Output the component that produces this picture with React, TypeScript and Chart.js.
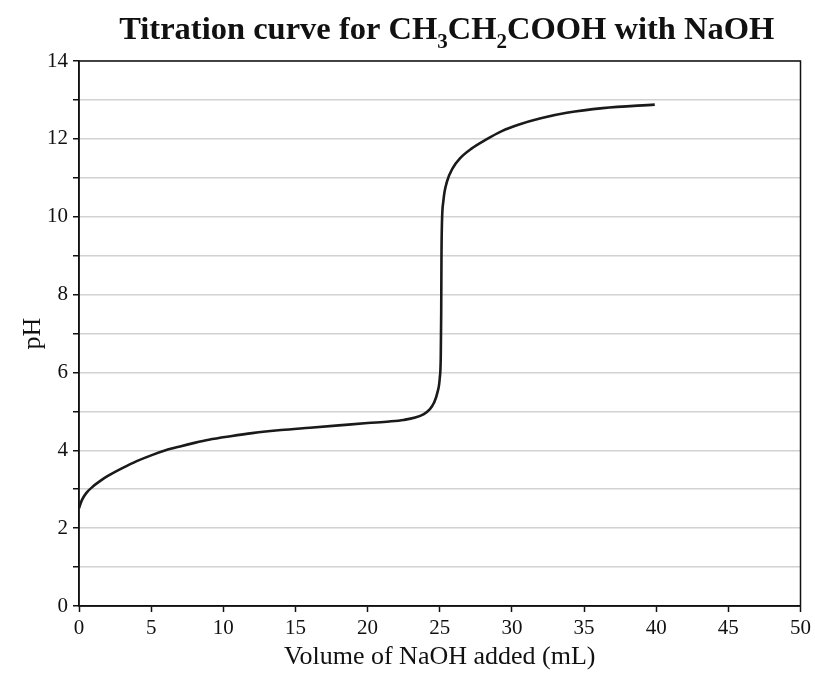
import React, { useEffect, useRef } from "react";
import { Chart, registerables } from "chart.js";

Chart.register(...registerables);

const volumes = [0, 0.2, 0.5, 1.0, 1.5, 2.0, 3.0, 4.0, 5.0, 6.0, 7.0, 8.0, 9.0, 10.5, 12, 14, 16, 18, 20, 21.5, 22.5, 23.3, 23.9, 24.3, 24.6, 24.85, 25.0, 25.07, 25.1, 25.12, 25.15, 25.25, 25.5, 25.9, 26.4, 27.2, 28.2, 29.3, 30.5, 32, 33.8, 36.3, 39.9];
const phValues = [2.51, 2.72, 2.9, 3.08, 3.22, 3.34, 3.54, 3.72, 3.87, 4.0, 4.1, 4.19, 4.27, 4.36, 4.44, 4.52, 4.58, 4.64, 4.7, 4.74, 4.78, 4.84, 4.93, 5.05, 5.22, 5.5, 5.85, 6.4, 7.5, 9.0, 9.8, 10.4, 10.9, 11.25, 11.5, 11.75, 11.98, 12.2, 12.37, 12.53, 12.67, 12.79, 12.88];

const titleParts: [string, boolean][] = [
  ["Titration curve for CH", false],
  ["3", true],
  ["CH", false],
  ["2", true],
  ["COOH with NaOH", false],
];
const xTitle = "Volume of NaOH added (mL)";
const yTitle = "pH";

const FONT = "'Liberation Serif', 'Times New Roman', serif";

const framePlugin = {
  id: "frame",
  beforeDatasetsDraw(chart: any) {
    const { ctx, chartArea } = chart;
    const { left, top, right, bottom } = chartArea;
    ctx.save();
    ctx.strokeStyle = "#111";
    ctx.lineWidth = 1.5;
    ctx.strokeRect(left, top, right - left, bottom - top);
    ctx.restore();
  },
};

const titlePlugin = {
  id: "subTitle",
  afterDraw(chart: any) {
    const { ctx, chartArea } = chart;
    const big = `bold 32.5px ${FONT}`;
    const small = `bold 21px ${FONT}`;
    ctx.save();
    let total = 0;
    for (const [t, sub] of titleParts) {
      ctx.font = sub ? small : big;
      total += ctx.measureText(t).width;
    }
    let x = (chartArea.left + chartArea.right) / 2 + 7 - total / 2;
    const baseY = 39;
    ctx.fillStyle = "#111";
    ctx.textBaseline = "alphabetic";
    ctx.textAlign = "left";
    for (const [t, sub] of titleParts) {
      ctx.font = sub ? small : big;
      ctx.fillText(t, x, sub ? baseY + 9 : baseY);
      x += ctx.measureText(t).width;
    }
    ctx.restore();
  },
};

export default function App() {
  const ref = useRef<HTMLCanvasElement>(null);
  useEffect(() => {
    if (!ref.current) return;
    const chart = new Chart(ref.current, {
      type: "line",
      data: {
        datasets: [
          {
            data: volumes.map((v, i) => ({ x: v, y: phValues[i] })),
            borderColor: "#1a1a1a",
            borderWidth: 2.6,
            pointRadius: 0,
            cubicInterpolationMode: "monotone",
            fill: false,
          },
        ],
      },
      options: {
        animation: false,
        responsive: true,
        maintainAspectRatio: false,
        layout: { padding: { top: 61, right: 14, left: 0, bottom: 0 } },
        plugins: { legend: { display: false }, tooltip: { enabled: false }, title: { display: false } },
        scales: {
          x: {
            type: "linear",
            min: 0,
            max: 50,
            afterFit: (s: any) => { s.height = 67; },
            ticks: { stepSize: 5, color: "#111", padding: 4, font: { family: FONT, size: 21 }, maxRotation: 0 },
            grid: { drawOnChartArea: false, drawTicks: true, tickLength: 6, tickColor: "#111", tickWidth: 1.5 },
            border: { color: "#111", width: 1.5 },
            title: { display: true, text: xTitle, color: "#111", font: { family: FONT, size: 26 }, padding: { top: 0, bottom: 0 } },
          },
          y: {
            type: "linear",
            min: 0,
            max: 14,
            afterFit: (s: any) => { s.width = 79; },
            ticks: { stepSize: 1, color: "#111", padding: 5, font: { family: FONT, size: 21 }, callback: (v: any) => (Number(v) % 2 === 0 ? String(v) : "") },
            grid: { color: "#d2d2d2", lineWidth: 1.5, tickLength: 6, tickColor: "#111", tickWidth: 1.5 },
            border: { color: "#111", width: 1.5 },
            title: { display: true, text: yTitle, color: "#111", font: { family: FONT, size: 26 }, padding: 18 },
          },
        },
      },
      plugins: [framePlugin, titlePlugin],
    } as any);
    return () => chart.destroy();
  }, []);
  return (
    <div style={{ position: "absolute", left: 0, top: 0, width: 815, height: 673, background: "#fff" }}>
      <canvas ref={ref} />
    </div>
  );
}
